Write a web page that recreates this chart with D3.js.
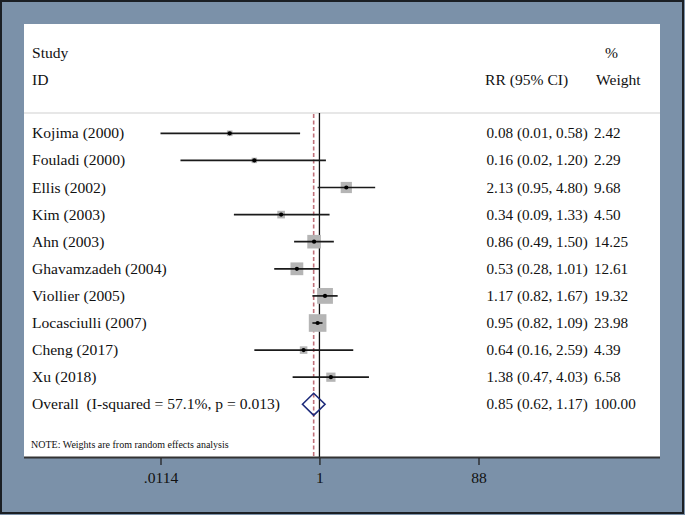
<!DOCTYPE html>
<html><head><meta charset="utf-8">
<script src="https://cdn.jsdelivr.net/npm/d3@7"></script>
<style>
html,body{margin:0;padding:0;background:#fff;}
svg text{font-family:"Liberation Serif","Times New Roman",Times,serif;}
</style></head>
<body><svg id="c" width="685" height="515"></svg>
<script>
const studies = ["Kojima (2000)","Fouladi (2000)","Ellis (2002)","Kim (2003)","Ahn (2003)","Ghavamzadeh (2004)","Viollier (2005)","Locasciulli (2007)","Cheng (2017)","Xu (2018)"];
const rr = [0.08,0.16,2.13,0.34,0.86,0.53,1.17,0.95,0.64,1.38];
const lower = [0.0114,0.02,0.95,0.09,0.49,0.28,0.82,0.82,0.16,0.47];
const upper = [0.58,1.20,4.80,1.33,1.50,1.01,1.67,1.09,2.59,4.03];
const weights = [2.42,2.29,9.68,4.50,14.25,12.61,19.32,23.98,4.39,6.58];
const overall = {label:"Overall  (I-squared = 57.1%, p = 0.013)", rr:0.85, lower:0.62, upper:1.17, weight:100.00};
const tickValues = [0.0114, 1, 88];
const tickLabels = [".0114", "1", "88"];

const FONT = "Liberation Serif";
const svg = d3.select("#c");
const W = 685, H = 515;
svg.append("rect").attr("x",0).attr("y",0).attr("width",W).attr("height",H).attr("fill","#7b91a9");
svg.append("rect").attr("x",1).attr("y",1).attr("width",W-3).attr("height",H-3)
  .attr("fill","none").attr("stroke","#1b1f24").attr("stroke-width",2);
const panel = {x0:24, x1:660, y0:24, y1:457};
svg.append("rect").attr("x",panel.x0).attr("y",panel.y0).attr("width",panel.x1-panel.x0).attr("height",panel.y1-panel.y0).attr("fill","#fff");

const x = d3.scaleLog().domain([0.0114, 88]).range([160.5, 478.5]);
const rows = studies.concat([overall.label]);
const y = d3.scalePoint().domain(d3.range(rows.length)).range([133.3, 404.3]);
const side = d3.scaleSqrt().domain([0, 100]).range([0, 36]);

const fs = 15.6, fsNum = 15.2;
const txt = (t, xx, yy, opts={}) => svg.append("text").attr("x",xx).attr("y",yy)
  .attr("font-family",FONT).attr("font-size",opts.size||fs).attr("fill","#111")
  .attr("text-anchor",opts.anchor||"start")
  .attr("xml:space","preserve").style("white-space","pre").text(t);
txt("Study", 32, 58);
txt("ID", 32, 85);
txt("RR (95% CI)", 485, 85);
txt("%", 605, 58);
txt("Weight", 596, 85);
svg.append("line").attr("x1",panel.x0).attr("x2",panel.x1).attr("y1",113).attr("y2",113)
  .attr("stroke","#cfcfcf").attr("stroke-width",1.2);

svg.append("line").attr("x1",x(1)).attr("x2",x(1)).attr("y1",113).attr("y2",panel.y1)
  .attr("stroke","#111").attr("stroke-width",1.3);
svg.append("line").attr("x1",x(overall.rr)).attr("x2",x(overall.rr)).attr("y1",114).attr("y2",panel.y1)
  .attr("stroke","#bf707a").attr("stroke-width",1.6).attr("stroke-dasharray","4,2.5");

const data = studies.map((s,i)=>({s, rr:rr[i], lo:lower[i], hi:upper[i], w:weights[i], i}));
const g = svg.append("g");
g.selectAll("rect.box").data(data).join("rect").attr("class","box")
  .attr("x",d=>x(d.rr)-side(d.w)/2).attr("y",d=>y(d.i)-side(d.w)/2)
  .attr("width",d=>side(d.w)).attr("height",d=>side(d.w)).attr("fill","#b5b5b5");
g.selectAll("line.ci").data(data).join("line").attr("class","ci")
  .attr("x1",d=>x(d.lo)).attr("x2",d=>x(d.hi)).attr("y1",d=>y(d.i)).attr("y2",d=>y(d.i))
  .attr("stroke","#1a1a1a").attr("stroke-width",1.7);
g.selectAll("circle.pt").data(data).join("circle").attr("class","pt")
  .attr("cx",d=>x(d.rr)).attr("cy",d=>y(d.i)).attr("r",2.1).attr("fill","#000");

const oy = y(studies.length);
svg.append("path").attr("d",
  `M${x(overall.lower)},${oy}L${x(overall.rr)},${oy-11}L${x(overall.upper)},${oy}L${x(overall.rr)},${oy+11}Z`)
  .attr("fill","none").attr("stroke","#1c2a7a").attr("stroke-width",1.6);

const f2 = d3.format(".2f");
rows.forEach((r,i)=>{
  const yy = y(i)+5;
  txt(r, 32, yy);
  let e, l, h, w;
  if (i < studies.length) { e=rr[i]; l=lower[i]; h=upper[i]; w=weights[i]; }
  else { e=overall.rr; l=overall.lower; h=overall.upper; w=overall.weight; }
  txt(`${f2(e)} (${f2(l)}, ${f2(h)})`, 486.5, yy, {size:fsNum});
  txt(f2(w), 594, yy, {size:fsNum});
});

txt("NOTE: Weights are from random effects analysis", 31, 448, {size:10});

svg.append("line").attr("x1",panel.x0).attr("x2",panel.x1).attr("y1",panel.y1+0.5).attr("y2",panel.y1+0.5)
  .attr("stroke","#333").attr("stroke-width",2);
const axis = d3.axisBottom(x).tickValues(tickValues).tickSize(7).tickPadding(7)
  .tickFormat((d,i)=>tickLabels[i]);
const ag = svg.append("g").attr("transform",`translate(0,${panel.y1+1})`).call(axis)
  .attr("font-family",FONT).attr("font-size",fs);
ag.select(".domain").remove();
ag.selectAll(".tick line").attr("stroke","#222").attr("stroke-width",1.3);
ag.selectAll(".tick text").attr("font-size",fs).attr("fill","#111").attr("font-family",FONT);
</script></body></html>
